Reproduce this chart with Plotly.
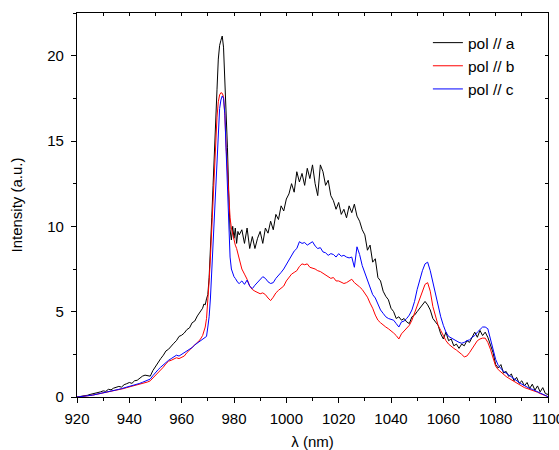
import plotly.graph_objects as go

# wavelength grid (nm)
wl = ([920 + i for i in range(48)]
      + [968 + 0.5 * i for i in range(29)]
      + [983 + i for i in range(118)])

pol_a = [
    0.00, 0.02, 0.05, 0.08, 0.10, 0.15, 0.18, 0.22, 0.25, 0.30,
    0.36, 0.33, 0.45, 0.42, 0.52, 0.55, 0.62, 0.58, 0.72, 0.78,
    0.85, 0.80, 0.95, 0.98, 1.10, 1.22, 1.28, 1.25, 1.22, 1.55,
    1.80, 2.00, 2.25, 2.45, 2.70, 2.80, 3.00, 3.15, 3.30, 3.55,
    3.62, 3.75, 3.95, 4.05, 4.35, 4.45, 4.75, 5.00,
    # 968 - 982 (0.5 nm)
    5.20, 5.45, 5.40, 5.75, 6.00, 7.00, 8.40, 10.5, 12.4, 14.0,
    16.0, 18.0, 19.8, 20.6, 20.9, 21.15, 20.5, 18.8, 16.8, 14.6,
    11.9, 9.8, 9.2, 10.0, 9.3, 9.9, 9.0, 9.7, 9.5,
    # 983 - 1100
    9.8, 9.0, 9.9, 8.7, 9.4, 8.7, 9.3, 9.7, 9.0, 9.9,
    9.6, 10.3, 9.8, 10.7, 10.4, 11.2, 10.9, 11.6, 11.9, 12.5,
    12.0, 13.2, 12.6, 13.1, 12.4, 13.4, 12.8, 13.6, 12.5, 11.8,
    13.6, 13.2, 12.4, 12.7, 11.8, 11.5, 11.0, 11.4, 10.7, 11.0,
    10.5, 11.2, 10.8, 11.3, 10.6, 10.3, 9.8, 9.5, 8.6, 8.9,
    7.9, 8.1, 7.0, 6.8, 6.2, 5.9, 5.7, 5.2, 5.0, 4.6,
    4.7, 4.5, 4.6, 4.4, 4.3, 4.7, 4.8, 5.0, 5.2, 5.4,
    5.6, 5.4, 5.1, 4.6, 4.4, 4.2, 3.7, 3.4, 3.8, 3.3,
    3.4, 3.0, 3.1, 2.85, 3.1, 3.0, 3.3, 3.2, 3.5, 3.8,
    3.5, 3.9, 3.6, 3.8, 3.5, 3.0, 2.6, 1.9, 1.7, 1.9,
    1.4, 1.5, 1.2, 1.35, 0.95, 1.15, 0.8, 0.95, 0.65, 0.85,
    0.5, 0.75, 0.4, 0.65, 0.3, 0.55, 0.2, 0.15,
]

pol_b = [
    0.00, 0.01, 0.03, 0.05, 0.07, 0.09, 0.11, 0.14, 0.17, 0.20,
    0.22, 0.25, 0.28, 0.31, 0.34, 0.38, 0.42, 0.46, 0.50, 0.55,
    0.59, 0.63, 0.67, 0.71, 0.74, 0.78, 0.82, 0.88, 0.95, 1.10,
    1.25, 1.40, 1.55, 1.75, 1.95, 2.10, 2.15, 2.25, 2.30, 2.25,
    2.35, 2.40, 2.60, 2.75, 2.85, 3.00, 3.15, 3.35,
    # 968 - 982 (0.5 nm)
    3.60, 3.85, 4.1, 4.6, 5.5, 6.8, 8.2, 10.0, 11.8, 13.5,
    15.2, 16.4, 17.3, 17.7, 17.83, 17.8, 17.6, 16.5, 14.6, 13.0,
    11.7, 10.5, 9.9, 9.5, 9.2, 8.9, 8.7, 8.4, 8.0,
    # 983 - 1100
    7.5, 7.2, 6.9, 6.5, 6.3, 6.2, 6.1, 6.05, 6.1, 6.0,
    5.8, 5.65, 5.85, 6.1, 6.25, 6.35, 6.5, 6.8, 7.0, 7.2,
    7.3, 7.4, 7.65, 7.8, 7.75, 7.8, 7.6, 7.55, 7.5, 7.4,
    7.35, 7.25, 7.15, 7.1, 6.95, 7.0, 6.8, 6.8, 6.7, 6.65,
    6.7, 6.8, 6.9, 6.7, 6.6, 6.45, 6.3, 6.1, 5.85, 5.5,
    5.2, 4.8, 4.5, 4.35, 4.2, 4.1, 4.0, 3.9, 3.75, 3.6,
    3.4, 3.7, 3.85, 4.0, 4.2, 4.5, 4.9, 5.3, 5.7, 6.2,
    6.6, 6.7, 6.2, 5.3, 4.7, 4.2, 3.9, 3.55, 3.3, 3.1,
    2.95, 2.85, 2.75, 2.65, 2.5, 2.35, 2.4, 2.6, 2.85, 3.1,
    3.3, 3.4, 3.45, 3.45, 3.2, 2.8, 2.3, 1.8, 1.6, 1.45,
    1.3, 1.2, 1.1, 1.0, 0.9, 0.8, 0.7, 0.6, 0.55, 0.5,
    0.45, 0.4, 0.35, 0.28, 0.2, 0.15, 0.08, 0.02,
]

pol_c = [
    0.00, 0.01, 0.03, 0.05, 0.07, 0.09, 0.11, 0.14, 0.17, 0.20,
    0.23, 0.26, 0.30, 0.33, 0.37, 0.41, 0.45, 0.49, 0.53, 0.57,
    0.62, 0.66, 0.70, 0.75, 0.80, 0.86, 0.92, 0.98, 1.05, 1.25,
    1.45, 1.60, 1.75, 1.90, 2.05, 2.15, 2.25, 2.35, 2.45, 2.40,
    2.50, 2.55, 2.70, 2.80, 2.90, 3.05, 3.15, 3.30,
    # 968 - 982 (0.5 nm)
    3.40, 3.45, 3.50, 3.55, 4.1, 4.7, 5.8, 7.4, 9.4, 11.2,
    13.0, 14.6, 16.0, 16.9, 17.4, 17.64, 17.5, 16.6, 14.4, 12.3,
    10.0, 8.2, 7.5, 7.2, 7.05, 6.95, 6.8, 6.7, 6.65,
    # 983 - 1100
    6.8, 6.6, 6.85, 6.5, 6.35, 6.55, 6.7, 6.85, 7.05, 6.95,
    6.75, 6.65, 6.7, 6.95, 7.1, 7.3, 7.5, 7.75, 8.0, 8.3,
    8.55, 8.7, 9.1, 9.0, 9.05, 8.9, 9.0, 9.1, 8.85, 8.7,
    8.75, 8.5, 8.45, 8.3, 8.4, 8.35, 8.2, 8.4, 8.25, 8.3,
    8.2, 8.15, 8.2, 7.6, 8.8, 8.35, 7.7, 7.3, 6.8, 6.4,
    6.0, 5.8, 5.4, 5.1, 4.9, 4.7, 4.6, 4.55, 4.5, 4.3,
    4.1, 4.4, 4.45, 4.6, 4.8, 5.1, 5.6, 6.3, 6.9, 7.4,
    7.8, 7.9, 7.4, 6.7, 5.9, 5.3, 4.7, 4.2, 3.8, 3.55,
    3.45, 3.35, 3.3, 3.2, 3.15, 3.2, 3.3, 3.35, 3.5, 3.6,
    3.8, 3.95, 4.1, 4.1, 4.0, 3.4, 2.8, 2.2, 1.85, 1.65,
    1.5, 1.4, 1.3, 1.15, 1.05, 0.95, 0.85, 0.75, 0.65, 0.58,
    0.5, 0.45, 0.38, 0.3, 0.22, 0.15, 0.08, 0.02,
]

series_names = ["pol // a", "pol // b", "pol // c"]
series_colors = ["#000000", "#ff0000", "#0000ff"]

x_ticks = [920, 940, 960, 980, 1000, 1020, 1040, 1060, 1080, 1100]
y_ticks = [0, 5, 10, 15, 20]

FONT = "Liberation Sans, Arial, sans-serif"

fig = go.Figure()
for name, col, ys in zip(series_names, series_colors, [pol_a, pol_b, pol_c]):
    fig.add_trace(go.Scatter(x=wl, y=ys, mode="lines", name=name,
                             line=dict(color=col, width=1)))

# helper trace for the mirrored (top/right) axes
fig.add_trace(go.Scatter(x=[None], y=[None], xaxis="x2", yaxis="y2",
                         showlegend=False, hoverinfo="skip"))

axis_common = dict(showline=True, linecolor="black", linewidth=1.3,
                   showgrid=False, zeroline=False, ticks="outside",
                   tickcolor="black", tickwidth=1.2, automargin=False,
                   ticklabeloverflow="allow",
                   tickfont=dict(family=FONT, size=15, color="black"))

fig.update_layout(
    width=559, height=450,
    margin=dict(l=77, r=11, t=13, b=53),
    paper_bgcolor="white", plot_bgcolor="white",
    font=dict(family=FONT, size=15, color="black"),
    showlegend=True,
    legend=dict(x=0.745, y=0.966, xanchor="left", yanchor="top",
                bgcolor="rgba(0,0,0,0)", borderwidth=0,
                font=dict(family=FONT, size=15.5, color="black"),
                tracegroupgap=0, itemwidth=30),
    xaxis=dict(range=[920, 1100], tickvals=x_ticks, ticklen=5,
               ticklabelstandoff=3,
               minor=dict(dtick=10, tick0=920, ticks="outside", ticklen=3,
                          tickcolor="black", tickwidth=1.2),
               title=dict(text="λ (nm)", standoff=13,
                          font=dict(family=FONT, size=15)),
               mirror=True, **axis_common),
    yaxis=dict(range=[0, 22.5], tickvals=y_ticks, ticklen=5,
               ticklabelstandoff=4,
               minor=dict(dtick=2.5, tick0=0, ticks="outside", ticklen=3,
                          tickcolor="black", tickwidth=1.2),
               title=dict(text="Intensity (a.u.)", standoff=20,
                          font=dict(family=FONT, size=15)),
               mirror=True, **axis_common),
    xaxis2=dict(range=[920, 1100], overlaying="x", side="top",
                dtick=10, tick0=920, ticks="inside", ticklen=3,
                tickcolor="black", tickwidth=1, showticklabels=False,
                showgrid=False, zeroline=False, showline=False,
                automargin=False),
    yaxis2=dict(range=[0, 22.5], overlaying="y", side="right",
                dtick=2.5, tick0=0, ticks="inside", ticklen=3,
                tickcolor="black", tickwidth=1, showticklabels=False,
                showgrid=False, zeroline=False, showline=False,
                automargin=False),
)

fig.write_html("out.html")
